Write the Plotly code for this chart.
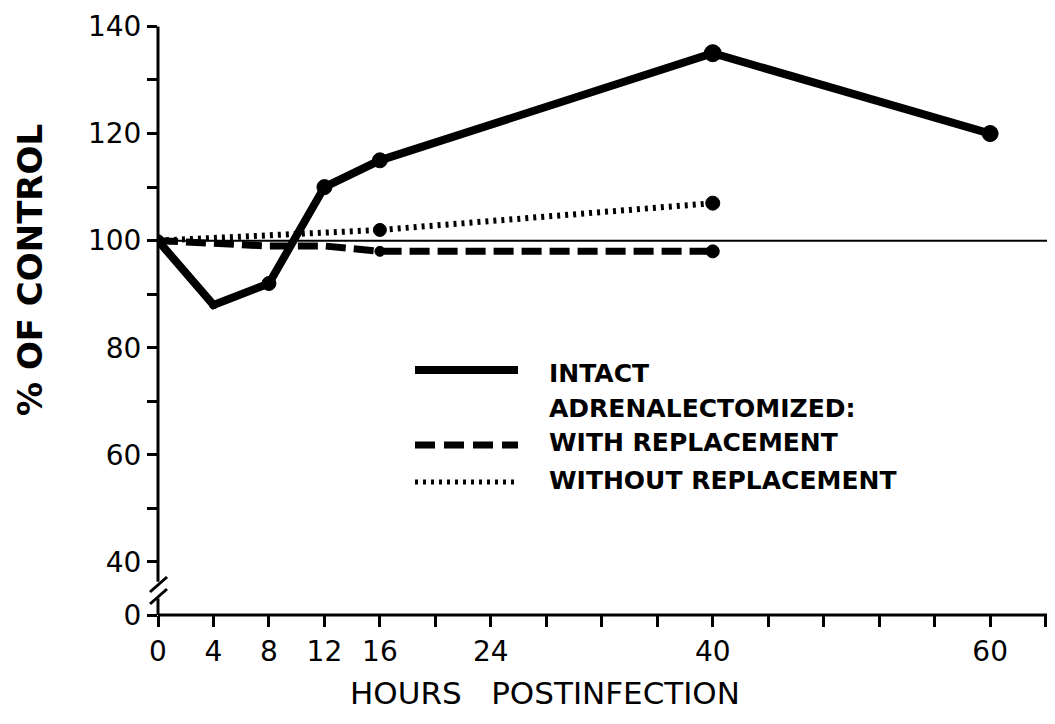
import plotly.graph_objects as go

# values (% of control vs hours postinfection)
intact_hours = [0, 4, 8, 12, 16, 40, 60]
intact_pct = [100, 88, 92, 110, 115, 135, 120]

with_repl_hours = [0, 8, 12, 16, 40]
with_repl_pct = [100, 99, 99, 98, 98]

without_repl_hours = [0, 16, 40]
without_repl_pct = [100, 102, 107]

CONTROL_LEVEL = 100

x_tick_vals = list(range(0, 68, 4))
x_tick_labels = {0: "0", 4: "4", 8: "8", 12: "12", 16: "16", 24: "24", 40: "40", 60: "60"}
y_tick_vals = [140, 130, 120, 110, 100, 90, 80, 70, 60, 50, 40]
y_tick_labels = {140: "140", 120: "120", 100: "100", 80: "80", 60: "60", 40: "40"}

# broken axis: the "0" sits just below the break
Y_ZERO_POS = 30.1
Y_TOP = 141.2
X_END = 64.1

# plot-area geometry in screen pixels (page body adds an 8px offset)
L, T, W, H = 158, 20, 889, 595
PAGE_OFFSET = 8
FONT = "DejaVu Sans"


def px(x):
    return (x - L) / W


def py(y):
    return (T + H - y) / H


def yv(v):
    return (v - Y_ZERO_POS) / (Y_TOP - Y_ZERO_POS)


def dot_marker(sizes):
    return dict(color="black", size=sizes, opacity=1, line=dict(width=1, color="black"))


fig = go.Figure()

fig.add_trace(go.Scatter(
    x=without_repl_hours, y=without_repl_pct, mode="lines+markers",
    line=dict(color="black", width=6, dash="3px,5px"),
    marker=dot_marker([0, 13, 14]),
))
fig.add_trace(go.Scatter(
    x=with_repl_hours, y=with_repl_pct, mode="lines+markers",
    line=dict(color="black", width=7, dash="20px,8px"),
    marker=dot_marker([0, 0, 0, 10, 13]),
))
fig.add_trace(go.Scatter(
    x=intact_hours, y=intact_pct, mode="lines+markers",
    line=dict(color="black", width=8),
    marker=dot_marker([12, 8, 14, 15, 15, 17, 16]),
))

shapes = [
    # control reference line
    dict(type="line", xref="paper", yref="y", x0=0, x1=1, y0=CONTROL_LEVEL, y1=CONTROL_LEVEL,
         line=dict(color="black", width=2)),
    # x axis line
    dict(type="line", xref="paper", yref="paper", x0=0, x1=1, y0=0, y1=0,
         line=dict(color="black", width=3)),
    # y axis, broken between 40 and 0
    dict(type="line", xref="paper", yref="paper", x0=0, x1=0, y0=yv(140), y1=yv(36.3),
         line=dict(color="black", width=3)),
    dict(type="line", xref="paper", yref="paper", x0=0, x1=0, y0=yv(33.2), y1=0,
         line=dict(color="black", width=3)),
    dict(type="line", xref="paper", yref="paper", x0=px(150), x1=px(167), y0=py(592), y1=py(577),
         line=dict(color="black", width=3)),
    dict(type="line", xref="paper", yref="paper", x0=px(150), x1=px(167), y0=py(604), y1=py(589),
         line=dict(color="black", width=3)),
    # legend keys
    dict(type="line", xref="paper", yref="paper", x0=px(415), x1=px(518), y0=py(370), y1=py(370),
         line=dict(color="black", width=8)),
    dict(type="line", xref="paper", yref="paper", x0=px(415), x1=px(518), y0=py(445), y1=py(445),
         line=dict(color="black", width=7, dash="20px,9px")),
    dict(type="line", xref="paper", yref="paper", x0=px(415), x1=px(518), y0=py(482), y1=py(482),
         line=dict(color="black", width=5, dash="3px,5px")),
]

legend_rows = [
    ("INTACT", 373),
    ("ADRENALECTOMIZED:", 408),
    ("WITH REPLACEMENT", 443),
    ("WITHOUT REPLACEMENT", 480),
]
annotations = [
    dict(text=txt, xref="paper", yref="paper", x=px(547), y=py(yy), xanchor="left", yanchor="middle",
         showarrow=False, font=dict(family=FONT, size=25, color="black", weight="bold"))
    for txt, yy in legend_rows
]
# axis titles placed as in the original figure
annotations.append(dict(
    text="HOURS   POSTINFECTION", xref="paper", yref="paper", x=px(545), y=py(693),
    xanchor="center", yanchor="middle", showarrow=False,
    font=dict(family=FONT, size=31, color="black"),
))
annotations.append(dict(
    text="% OF CONTROL", xref="paper", yref="paper", x=px(30), y=py(270), textangle=-90,
    xanchor="center", yanchor="middle", showarrow=False,
    font=dict(family=FONT, size=34, color="black", weight="bold"),
))

fig.update_layout(
    width=1055, height=724,
    margin=dict(l=L - PAGE_OFFSET, r=1055 - (L - PAGE_OFFSET) - W,
                t=T - PAGE_OFFSET, b=724 - (T - PAGE_OFFSET) - H),
    plot_bgcolor="white", paper_bgcolor="white",
    showlegend=False,
    shapes=shapes,
    annotations=annotations,
    font=dict(family=FONT, color="black"),
)
fig.update_xaxes(
    range=[0, X_END], showgrid=False, zeroline=False, showline=False, automargin=False,
    tickmode="array", tickvals=x_tick_vals,
    ticktext=[x_tick_labels.get(v, "") for v in x_tick_vals],
    ticks="outside", ticklen=11, tickwidth=3, tickcolor="black",
    tickfont=dict(size=28, family=FONT),
)
fig.update_yaxes(
    range=[Y_ZERO_POS, Y_TOP], showgrid=False, zeroline=False, showline=False, automargin=False,
    tickmode="array", tickvals=y_tick_vals + [Y_ZERO_POS],
    ticktext=[y_tick_labels.get(v, "") for v in y_tick_vals] + ["0"],
    ticks="outside", ticklen=10, tickwidth=3, tickcolor="black",
    tickfont=dict(size=28, family=FONT),
)

fig.write_html("out.html")
